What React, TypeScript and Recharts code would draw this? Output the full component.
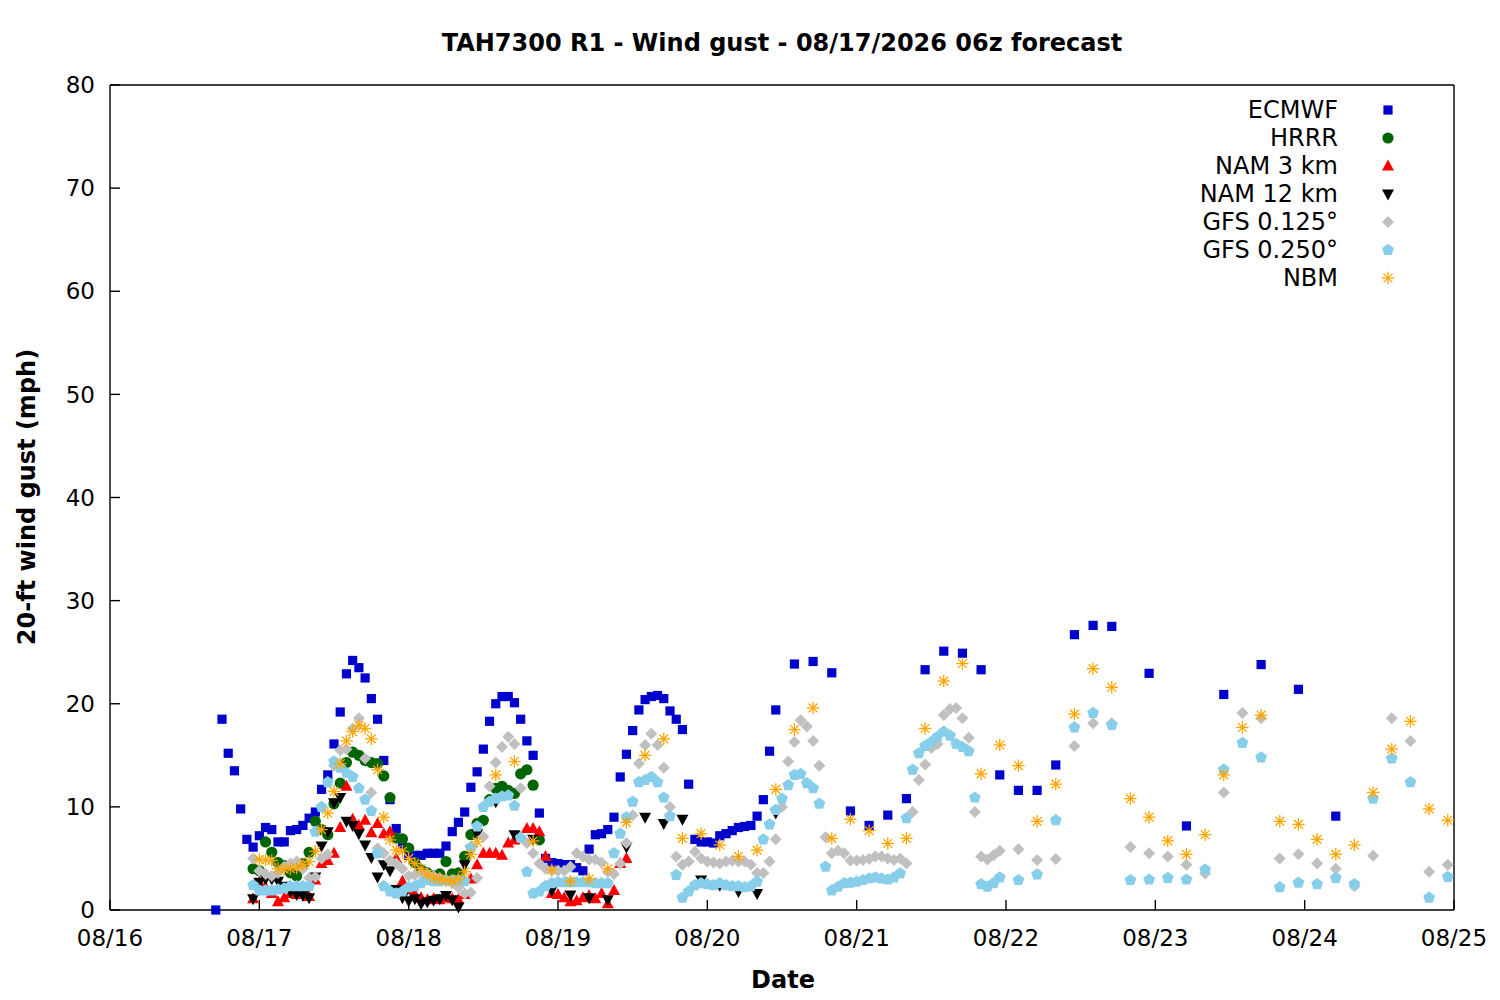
import { ScatterChart, Scatter, XAxis, YAxis } from 'recharts';

// hours counted from 08/16 00:00 local time
const DATE_TICKS = [0, 24, 48, 72, 96, 120, 144, 168, 192, 216];
const DATE_LABELS = ['08/16', '08/17', '08/18', '08/19', '08/20', '08/21', '08/22', '08/23', '08/24', '08/25'];
const GUST_TICKS = [0, 10, 20, 30, 40, 50, 60, 70, 80];

const span = (start: number, end: number, step: number) => {
  const out: number[] = [];
  for (let h = start; h <= end; h += step) out.push(h);
  return out;
};

const ECMWF_HOURS = [...span(17, 107, 1), ...span(110, 161, 3), ...span(167, 197, 6)];
const ECMWF = [
  0, 18.5, 15.2, 13.5, 9.8, 6.85, 6.1, 7.2, 8.0, 7.8, 6.6, 6.6, 7.7, 7.8, 8.2, 8.9, 9.5, 11.7, 13.1, 16.1,
  19.2, 22.9, 24.2, 23.5, 22.5, 20.5, 18.5, 14.5, 10.7, 7.9,
  6.4, 5.3, 5.3, 5.3, 5.5, 5.5, 5.5, 6.2, 7.6, 8.5,
  9.5, 11.9, 13.4, 15.6, 18.3, 20.0, 20.7, 20.7, 20.1, 18.5,
  16.4, 15.0, 9.4, 5.0, 4.6, 4.5, 4.4, 4.4, 4.1, 3.8,
  5.9, 7.3, 7.4, 7.8, 9.0, 12.9, 15.1, 17.4, 19.4, 20.4,
  20.7, 20.8, 20.5, 19.3, 18.5, 17.5, 12.2, 6.85, 6.6, 6.6,
  6.5, 7.2, 7.4, 7.7, 8.0, 8.1, 8.2, 9.1, 10.7, 15.4,
  19.4,
  23.85, 24.1, 23.0, 9.6, 8.2, 9.2, 10.8, 23.3, 25.1, 24.9, 23.3, 13.1, 11.6, 11.6, 14.06, 26.7, 27.6, 27.5,
  22.95, 8.15, 20.9, 23.8, 21.4, 9.1,
];

const HRRR_HOURS = span(23, 69, 1);
const HRRR = [
  4.0, 3.8, 6.6, 5.6, 4.6, 4.3, 3.6, 3.3, 4.5, 5.6,
  8.6, 7.8, 7.3, 10.3, 12.3, 14.3, 15.3, 15.0, 14.5, 14.3,
  14.2, 13.0, 10.9, 7.0, 6.9, 6.0, 4.6, 3.9, 3.6, 3.3,
  3.5, 4.7, 3.5, 3.6, 5.2, 7.3, 8.4, 8.7, 10.7, 11.8,
  12.0, 11.6, 11.3, 13.2, 13.6, 12.1, 6.8,
];

const NAM3_HOURS = span(23, 83, 1);
const NAM3 = [
  1.1, 2.7, 2.2, 1.6, 0.8, 1.2, 1.6, 1.5, 1.7, 1.3,
  2.9, 4.5, 4.8, 5.5, 8.0, 12.0, 8.8, 8.2, 8.7, 7.5,
  8.4, 7.4, 7.6, 5.0, 2.8, 2.0, 1.5, 1.2, 1.0, 1.1,
  1.0, 1.2, 1.1, 1.0, 1.5, 3.0, 4.4, 5.5, 5.5, 5.5,
  5.3, 6.5, 6.8, 7.0, 7.9, 7.9, 7.6, 5.2, 1.6, 1.5,
  1.2, 0.8, 0.9, 1.2, 1.4, 1.1, 1.6, 0.6, 1.9, 4.5,
  5.0,
];

const NAM12_HOURS = [...span(23, 59, 1), ...span(62, 107, 3)];
const NAM12 = [
  1.1, 2.7, 3.0, 3.0, 2.8, 2.3, 1.8, 1.5, 1.4, 1.2,
  3.2, 6.2, 7.6, 10.4, 10.9, 8.6, 8.2, 7.4, 6.3, 5.1,
  3.2, 4.4, 3.8, 2.0, 1.2, 0.9, 1.1, 0.6, 0.8, 0.95,
  1.1, 1.4, 1.0, 0.3, 4.4, 5.8, 7.4,
  10.5, 7.3, 6.85, 1.9, 1.45, 1.2, 1.0, 6.1, 9.0, 8.4, 8.8, 2.9, 2.4, 1.8, 1.6, 9.4,
];

const GFS_HOURS = [...span(23, 143, 1), ...span(146, 215, 3)];
const GFS0125 = [
  5.0, 3.8, 3.5, 3.3, 3.6, 4.2, 4.5, 4.7, 4.0, 3.1,
  3.2, 5.0, 5.4, 14.0, 15.5, 15.6, 17.6, 18.6, 14.7, 11.4,
  6.0, 5.5, 4.8, 4.5, 4.0, 3.3, 3.4, 3.6, 3.5, 3.3,
  3.1, 2.8, 2.6, 2.2, 1.6, 1.7, 3.1, 7.1, 12.0, 14.3,
  15.8, 16.8, 16.1, 11.8, 6.5, 5.5, 4.5, 4.0, 3.8, 3.8,
  3.8, 4.2, 5.5, 5.2, 4.9, 4.9, 4.6, 3.7, 3.5, 4.5,
  6.5, 9.2, 14.2, 16.0, 17.1, 16.0, 13.8, 10.0, 5.2, 4.4,
  4.7, 5.65, 5.0, 4.7, 4.6, 4.5, 4.7, 4.8, 4.7, 4.7,
  4.4, 3.6, 3.6, 4.7, 6.85, 10.0, 14.4, 16.3, 18.4, 17.8,
  16.4, 14.0, 7.05, 5.5, 5.75, 5.5, 4.8, 4.8, 4.85, 4.95,
  5.2, 5.2, 5.0, 4.85, 5.0, 4.5, 9.5, 12.6, 14.1, 15.7,
  16.1, 18.9, 19.5, 19.6, 18.6, 16.7, 9.5, 5.2, 4.9, 5.3,
  5.75,
  5.9, 4.85, 4.95, 15.9, 18.1, 18.1, 6.1, 5.5, 5.2, 4.4, 3.55, 11.4,
  19.1, 18.6, 5.0, 5.4, 4.5, 4.0, 2.3, 5.25, 18.6, 16.4, 3.7, 4.4,
];
const GFS0250 = [
  2.4, 1.9, 1.9, 1.9, 2.0, 2.1, 2.3, 2.3, 2.3, 2.3,
  7.6, 10.0, 12.4, 14.4, 13.8, 13.3, 12.9, 11.8, 10.7, 9.6,
  5.5, 2.3, 1.8, 1.6, 1.8, 2.2, 2.3, 2.6, 2.9, 2.8,
  2.8, 2.9, 2.9, 2.9, 2.8, 6.1, 8.1, 10.0, 10.5, 10.8,
  11.0, 11.1, 10.1, 7.0, 3.7, 1.6, 1.8, 2.3, 2.6, 2.7,
  2.7, 2.7, 2.7, 2.7, 2.7, 2.6, 2.6, 2.6, 5.5, 7.4,
  9.0, 10.5, 12.4, 12.6, 12.9, 12.4, 10.9, 9.1, 3.4, 1.2,
  1.8, 2.4, 2.6, 2.5, 2.4, 2.6, 2.4, 2.3, 2.3, 2.2,
  2.3, 2.75, 6.85, 8.3, 9.7, 10.8, 12.1, 13.1, 13.2, 12.3,
  11.8, 10.3, 4.2, 1.9, 2.25, 2.6, 2.65, 2.75, 2.9, 3.05,
  3.15, 3.05, 2.95, 3.15, 3.55, 8.9, 13.6, 15.2, 15.9, 16.3,
  16.8, 17.3, 16.9, 16.1, 15.8, 15.4, 10.9, 2.5, 2.25, 2.6,
  3.15,
  2.9, 3.45, 8.7, 17.7, 19.1, 17.95, 2.9, 2.95, 3.1, 2.95, 3.9, 13.6,
  16.2, 14.8, 2.2, 2.65, 2.5, 3.1, 2.5, 10.8, 14.7, 12.4, 1.2, 3.2,
];

const NBM_HOURS = [...span(24, 59, 1), ...span(62, 215, 3)];
const NBM = [
  4.9, 4.85, 4.8, 4.0, 3.95, 4.0, 4.1, 4.4, 4.7, 5.7,
  7.8, 9.4, 11.5, 14.2, 16.4, 17.3, 17.9, 17.6, 16.6, 13.6,
  9.0, 6.8, 5.8, 5.7, 5.0, 4.5, 4.0, 3.5, 3.1, 3.0,
  2.9, 2.8, 3.0, 3.7, 5.4, 6.6,
  13.1, 14.4, 6.7, 3.9, 2.8, 3.0, 4.0, 8.5, 15.0, 16.6,
  6.95, 7.4, 6.3, 5.2, 5.8, 11.7, 17.5, 19.6, 6.95, 8.8,
  7.7, 6.45, 6.95, 17.6, 22.2, 23.9, 13.2, 16.0, 14.0, 8.6,
  12.2, 19.0, 23.4, 21.6, 10.8, 9.0, 6.7, 5.4, 7.3, 13.1,
  17.7, 18.9, 8.6, 8.3, 6.85, 5.4, 6.3, 11.4, 15.6, 18.3,
  9.8, 8.7,
];

const toPoints = (hours: number[], values: number[]) =>
  hours.map((x, i) => ({ x, y: values[i] }));

type Mark = { cx?: number; cy?: number };

const square = (color: string) => ({ cx = 0, cy = 0 }: Mark) => (
  <rect x={cx - 4.6} y={cy - 4.6} width={9.2} height={9.2} fill={color} />
);
const circle = (color: string) => ({ cx = 0, cy = 0 }: Mark) => (
  <circle cx={cx} cy={cy} r={5.6} fill={color} />
);
const triUp = (color: string) => ({ cx = 0, cy = 0 }: Mark) => (
  <polygon points={`${cx},${cy - 6.5} ${cx + 6},${cy + 4.5} ${cx - 6},${cy + 4.5}`} fill={color} />
);
const triDown = (color: string) => ({ cx = 0, cy = 0 }: Mark) => (
  <polygon points={`${cx},${cy + 6.5} ${cx + 6},${cy - 4.5} ${cx - 6},${cy - 4.5}`} fill={color} />
);
const diamond = (color: string) => ({ cx = 0, cy = 0 }: Mark) => (
  <polygon points={`${cx},${cy - 6} ${cx + 6},${cy} ${cx},${cy + 6} ${cx - 6},${cy}`} fill={color} />
);
const pentagon = (color: string) => ({ cx = 0, cy = 0 }: Mark) => {
  const pts = [0, 1, 2, 3, 4]
    .map((k) => {
      const a = -Math.PI / 2 + (k * 2 * Math.PI) / 5;
      return `${cx + 6.2 * Math.cos(a)},${cy + 6.2 * Math.sin(a)}`;
    })
    .join(' ');
  return <polygon points={pts} fill={color} />;
};
const asterisk = (color: string) => ({ cx = 0, cy = 0 }: Mark) => {
  const r = 6.2;
  const d = r * 0.7071;
  return (
    <g stroke={color} strokeWidth={1.3}>
      <line x1={cx - r} y1={cy} x2={cx + r} y2={cy} />
      <line x1={cx} y1={cy - r} x2={cx} y2={cy + r} />
      <line x1={cx - d} y1={cy - d} x2={cx + d} y2={cy + d} />
      <line x1={cx - d} y1={cy + d} x2={cx + d} y2={cy - d} />
    </g>
  );
};

const SERIES = [
  { name: 'ECMWF', data: toPoints(ECMWF_HOURS, ECMWF), shape: square('#0000cc') },
  { name: 'HRRR', data: toPoints(HRRR_HOURS, HRRR), shape: circle('#006400') },
  { name: 'NAM 3 km', data: toPoints(NAM3_HOURS, NAM3), shape: triUp('#ff0000') },
  { name: 'NAM 12 km', data: toPoints(NAM12_HOURS, NAM12), shape: triDown('#000000') },
  { name: 'GFS 0.125°', data: toPoints(GFS_HOURS, GFS0125), shape: diamond('#c0c0c0') },
  { name: 'GFS 0.250°', data: toPoints(GFS_HOURS, GFS0250), shape: pentagon('#87ceeb') },
  { name: 'NBM', data: toPoints(NBM_HOURS, NBM), shape: asterisk('#ffa500') },
];

const FONT = '"DejaVu Sans", sans-serif';
const tickText = { fill: '#000', fontSize: 23, fontFamily: FONT };
const frame = { stroke: '#000', strokeWidth: 1.4 };

export default function App() {
  return (
    <div style={{ position: 'relative', width: 1484, height: 984, fontFamily: FONT, color: '#000' }}>
      <ScatterChart width={1484} height={984} margin={{ top: 76, right: 37, bottom: 42, left: 42 }}>
        <XAxis
          type="number"
          dataKey="x"
          domain={[0, 216]}
          ticks={DATE_TICKS}
          tickFormatter={(v: number) => DATE_LABELS[DATE_TICKS.indexOf(v)]}
          height={40}
          tick={tickText}
          tickSize={-10}
          tickMargin={30}
          axisLine={frame}
          tickLine={frame}
          interval={0}
        />
        <XAxis
          xAxisId="top"
          orientation="top"
          type="number"
          domain={[0, 216]}
          ticks={DATE_TICKS}
          height={1}
          tick={false}
          tickSize={-10}
          axisLine={frame}
          tickLine={frame}
          interval={0}
        />
        <YAxis
          type="number"
          dataKey="y"
          domain={[0, 80]}
          ticks={GUST_TICKS}
          width={60}
          tick={tickText}
          tickSize={-10}
          tickMargin={25}
          axisLine={frame}
          tickLine={frame}
          interval={0}
        />
        <YAxis
          yAxisId="right"
          orientation="right"
          type="number"
          domain={[0, 80]}
          ticks={GUST_TICKS}
          width={1}
          tick={false}
          tickSize={-10}
          axisLine={frame}
          tickLine={frame}
          interval={0}
        />
        {SERIES.map((s) => (
          <Scatter key={s.name} name={s.name} data={s.data} shape={s.shape} isAnimationActive={false} />
        ))}
      </ScatterChart>

      <div
        style={{
          position: 'absolute', left: 102, top: 21, width: 1344, textAlign: 'center',
          fontSize: 24, fontWeight: 'bold', lineHeight: '28px',
        }}
      >
        TAH7300 R1 - Wind gust - 08/17/2026 06z forecast
      </div>
      <div
        style={{
          position: 'absolute', left: 19, top: 489, transform: 'translate(-50%, -50%) rotate(-90deg)',
          fontSize: 24, fontWeight: 'bold', whiteSpace: 'nowrap',
        }}
      >
        20-ft wind gust (mph)
      </div>
      <div
        style={{
          position: 'absolute', left: 775, top: 972, transform: 'translate(-50%, -50%)',
          fontSize: 24, fontWeight: 'bold',
        }}
      >
        Date
      </div>

      <div style={{ position: 'absolute', left: 1100, top: 88, width: 300 }}>
        {SERIES.map((s) => (
          <div key={s.name} style={{ position: 'relative', height: 28, fontSize: 24, lineHeight: '28px' }}>
            <span style={{ position: 'absolute', right: 70, whiteSpace: 'nowrap' }}>{s.name}</span>
            <svg width={20} height={28} style={{ position: 'absolute', left: 270, top: 0 }}>
              {s.shape({ cx: 10, cy: 14 })}
            </svg>
          </div>
        ))}
      </div>
    </div>
  );
}
